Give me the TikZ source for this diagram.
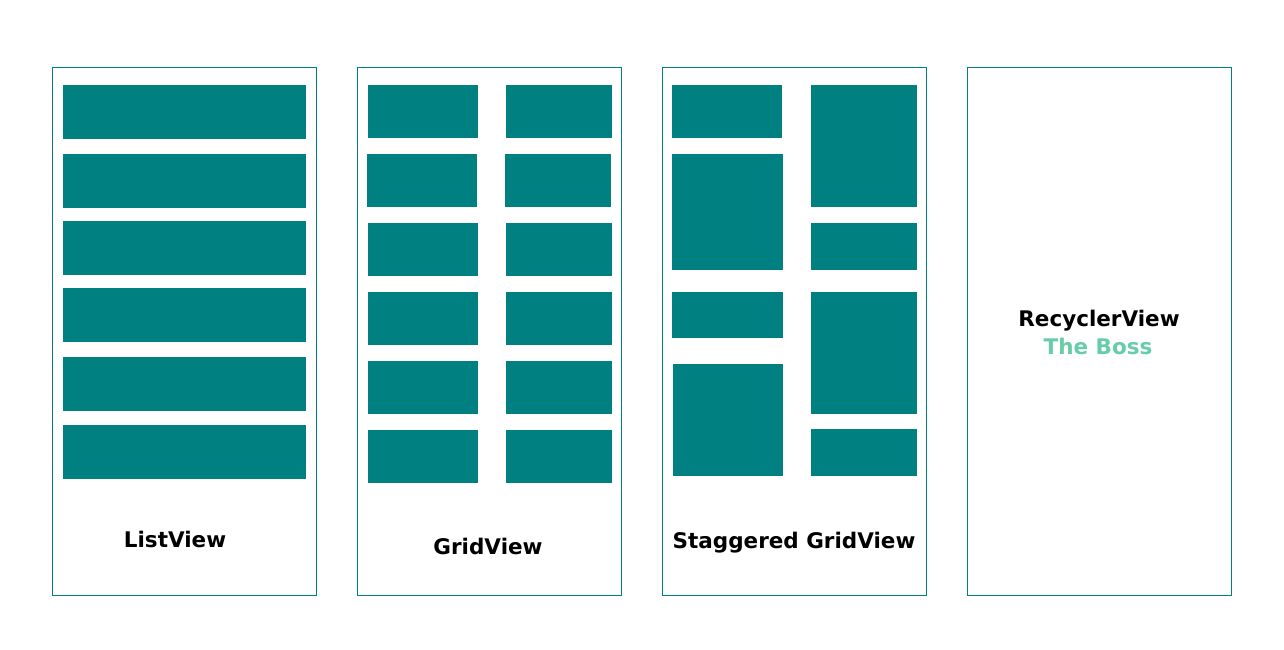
\documentclass[tikz,border=0pt]{standalone}
\usepackage{fontspec}
\newfontfamily\labelfont{DejaVu Sans}[BoldFont={DejaVu Sans Bold}]
\definecolor{tealbox}{HTML}{008080}
\definecolor{mint}{HTML}{66CDA8}
\begin{document}
\begin{tikzpicture}[x=1pt,y=-1pt,
  panel/.style={draw=tealbox,line width=1pt},
  item/.style={fill=tealbox},
  caption/.style={anchor=base,inner sep=0pt,font=\labelfont\bfseries\fontsize{21.5}{24}\selectfont,text=black}]
\useasboundingbox[fill=white] (0,0) rectangle (1284,650);

% panel frames
\draw[panel] (52.5,67.5) rectangle (316.5,595.5);
\draw[panel] (357.5,67.5) rectangle (621.5,595.5);
\draw[panel] (662.5,67.5) rectangle (926.5,595.5);
\draw[panel] (967.5,67.5) rectangle (1231.5,595.5);

% ListView rows
\foreach \t/\b in {85/139,154/208,221/275,288/342,357/411,425/479}
  \fill[item] (63,\t) rectangle (306,\b);

% GridView cells
\foreach \t/\b/\dx in {85/138/0,154/207/-1,223/276/0,292/345/0,361/414/0,430/483/0}{
  \fill[item] (368+\dx,\t) rectangle (478+\dx,\b);
  \fill[item] (506+\dx,\t) rectangle (612+\dx,\b);
}

% Staggered grid, left column
\fill[item] (672,85) rectangle (782,138);
\fill[item] (672,154) rectangle (783,270);
\fill[item] (672,292) rectangle (783,338);
\fill[item] (673,364) rectangle (783,476);
% Staggered grid, right column
\fill[item] (811,85) rectangle (917,207);
\fill[item] (811,223) rectangle (917,270);
\fill[item] (811,292) rectangle (917,414);
\fill[item] (811,429) rectangle (917,476);

% captions
\node[caption] (lv) at (175,547.5) {ListView};
\node[caption] (gv) at (488,554) {GridView};
\node[caption] (sg) at (794,548) {Staggered GridView};
\node[caption] (rv) at (1099,326) {RecyclerView};
\node[caption,text=mint] (boss) at (1098,354.5) {The Boss};
\end{tikzpicture}
\end{document}
